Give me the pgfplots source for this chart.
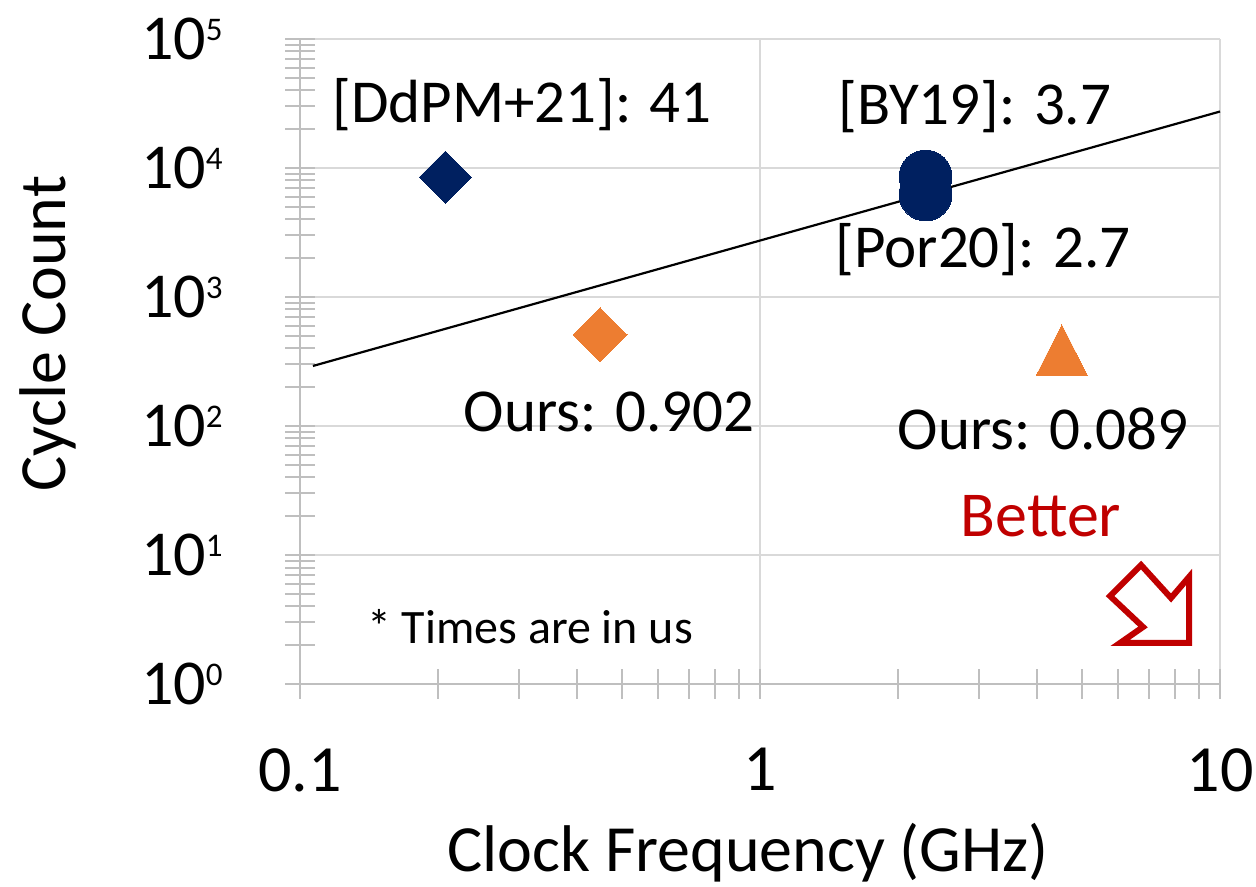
\documentclass[border=0pt]{standalone}
\usepackage{pgfplots}
\pgfplotsset{compat=1.18}
\usepackage{fontspec}
\setmainfont{Carlito}

\definecolor{navy}{HTML}{002060}
\definecolor{orng}{HTML}{ED7D31}
\definecolor{darkred}{HTML}{C00000}
\definecolor{gridgray}{HTML}{D9D9D9}
\definecolor{axisgray}{HTML}{BFBFBF}

\newcommand\fs[1]{\fontsize{#1}{#1}\selectfont}
\newcommand\pw[1]{10\raisebox{9.6pt}{\fs{16.5}#1}}

\begin{document}
\begin{tikzpicture}
% page = 1256x887 px at 0.5pt per px, axis box SW corner at (0,0)
\useasboundingbox (-150pt,-101.5pt) rectangle (478pt,342pt);
\begin{axis}[
    name=ax, at={(0,0)}, anchor=south west,
    scale only axis, width=460pt, height=322.5pt,
    xmode=log, ymode=log,
    xmin=0.1, xmax=10, ymin=1, ymax=1e5,
    axis x line*=bottom, axis y line*=left,
    axis line style={draw=axisgray, line width=1pt, -},
    xtick={0.1,1,10}, xticklabels={0.1,1,10},
    minor xtick={0.2,0.3,0.4,0.5,0.6,0.7,0.8,0.9,2,3,4,5,6,7,8,9},
    ytick={1,10,100,1000,10000,100000},
    yticklabels={\pw{0},\pw{1},\pw{2},\pw{3},\pw{4},\pw{5}},
    minor ytick={2,3,4,5,6,7,8,9,20,30,40,50,60,70,80,90,
        200,300,400,500,600,700,800,900,2000,3000,4000,5000,6000,7000,8000,9000,
        20000,30000,40000,50000,60000,70000,80000,90000},
    tick align=center,
    major tick length=15pt, minor tick length=15pt,
    every tick/.append style={draw=axisgray, line width=1pt},
    grid=major,
    major grid style={draw=gridgray, line width=1pt},
    xticklabel style={font=\fs{33}, inner sep=0pt, anchor=north},
    xticklabel shift=24.5pt,
    yticklabel style={font=\fs{32}, inner sep=0pt, anchor=east},
    yticklabel shift=31pt,
    xlabel={Clock Frequency (GHz)},
    ylabel={Cycle Count},
    every axis x label/.style={at={(axis description cs:0.487,-0.29)}, anchor=base, font=\fs{33}},
    every axis y label/.style={at={(axis description cs:-0.255,0.543)}, rotate=90, anchor=base, font=\fs{33}},
    clip=false,
]
\addplot[only marks, mark=square*, mark size=9.2pt,
    mark options={rotate=45, fill=navy, draw=navy, line width=0pt}]
    coordinates {(0.207,8470)};
\addplot[only marks, mark=square*, mark size=9.55pt,
    mark options={rotate=45, fill=orng, draw=orng, line width=0pt}]
    coordinates {(0.449,508)};
\addplot[only marks, mark=*, mark size=13.2pt,
    mark options={fill=navy, draw=navy, line width=0pt}]
    coordinates {(2.29,8590) (2.29,6230)};
\addplot[only marks, mark=triangle*, mark size=14.9pt,
    mark options={yscale=1.14, fill=orng, draw=orng, line width=0pt}]
    coordinates {(4.53,331)};
\addplot[black, line width=1.1pt] coordinates {(0.1067,292) (10,27400)};
\end{axis}

% annotations, in pixel units of the reference
\begin{scope}[x=0.5pt, y=-0.5pt, shift={(-150pt,342pt)}]
\node[anchor=base, inner sep=0pt, font=\fs{30.5}] at (522,123) {[DdPM+21]: 41};
\node[anchor=base, inner sep=0pt, font=\fs{30.5}] at (975,125) {[BY19]: 3.7};
\node[anchor=base, inner sep=0pt, font=\fs{30.5}] at (983,268) {[Por20]: 2.7};
\node[anchor=base, inner sep=0pt, font=\fs{30.5}] at (609,432) {Ours: 0.902};
\node[anchor=base, inner sep=0pt, font=\fs{30.5}] at (1043,450) {Ours: 0.089};
\node[anchor=base, inner sep=0pt, font=\fs{32}, text=darkred] at (1041,537) {Better};
\node[anchor=base, inner sep=0pt, font=\fs{24}] at (530,644) {* Times are in us};
\draw[darkred, line width=3pt, line join=miter, fill=white]
    (1120,643) -- (1189,643) -- (1189,577) -- (1171,598) -- (1141,565)
    -- (1110,596) -- (1143,627) -- cycle;
\end{scope}
\end{tikzpicture}
\end{document}
